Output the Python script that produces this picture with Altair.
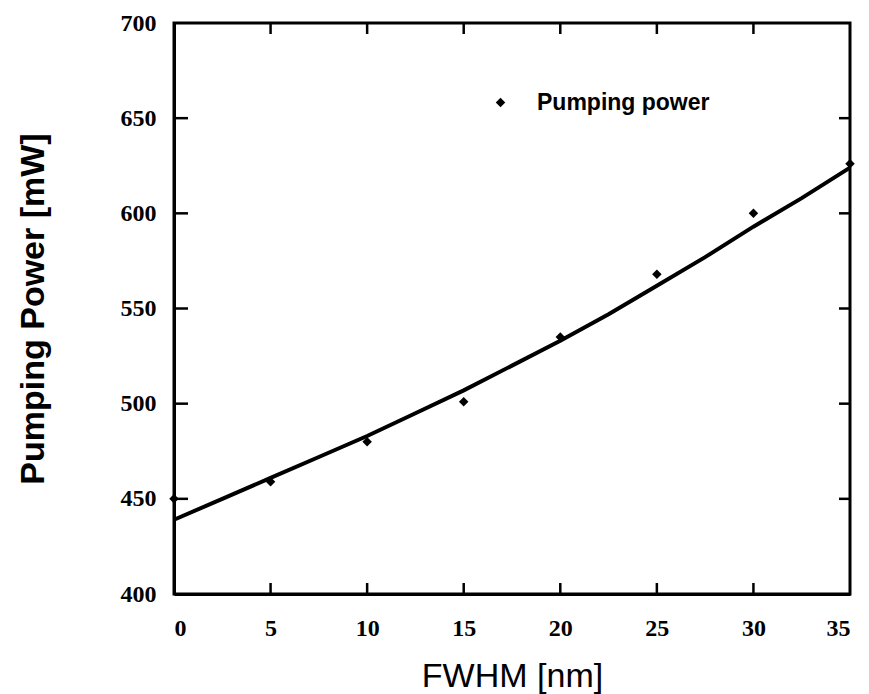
import altair as alt
import pandas as pd

# measured data points
fwhm = [0, 5, 10, 15, 20, 25, 30, 35]
power = [450, 459, 480, 501, 535, 568, 600, 626]

# fitted curve
fit_x = [0, 2.5, 5, 7.5, 10, 12.5, 15, 17.5, 20, 22.5, 25, 27.5, 30, 32.5, 35]
fit_y = [439, 450, 461, 472, 483, 495, 507, 520, 533, 547, 562, 577, 593, 608, 624]

x_ticks = [0, 5, 10, 15, 20, 25, 30, 35]
y_ticks = [400, 450, 500, 550, 600, 650, 700]

pts = pd.DataFrame({"x": fwhm, "y": power, "s": ["Pumping power"] * len(fwhm)})
fit = pd.DataFrame({"x": fit_x, "y": fit_y})
xt = pd.DataFrame({"x": x_ticks[1:-1]})
yt = pd.DataFrame({"y": y_ticks[1:-1]})

W, H = 676, 571
xs = alt.Scale(domain=[0, 35], nice=False, zero=False)
ys = alt.Scale(domain=[400, 700], nice=False, zero=False)

xaxis = alt.Axis(values=x_ticks, tickSize=0, labelPadding=22, labelFont="Liberation Serif",
                 labelFontWeight="bold", labelFontSize=24, labelColor="black",
                 domainColor="black", domainWidth=3, grid=False,
                 title="FWHM [nm]", titleFont="Liberation Sans", titleFontSize=34,
                 titleFontWeight="normal", titlePadding=19, titleColor="black")
yaxis = alt.Axis(values=y_ticks, tickSize=0, labelPadding=18, labelFont="Liberation Serif",
                 labelFontWeight="bold", labelFontSize=24, labelColor="black",
                 domainColor="black", domainWidth=3, grid=False,
                 title="Pumping Power [mW]", titleFont="Liberation Sans", titleFontSize=34,
                 titleFontWeight="bold", titlePadding=70, titleColor="black")

line = alt.Chart(fit).mark_line(color="black", strokeWidth=4).encode(
    x=alt.X("x:Q", scale=xs, axis=xaxis),
    y=alt.Y("y:Q", scale=ys, axis=yaxis),
)

points = alt.Chart(pts).mark_point(filled=True, color="black", size=90, opacity=1).encode(
    x=alt.X("x:Q", scale=xs),
    y=alt.Y("y:Q", scale=ys),
    shape=alt.Shape("s:N", scale=alt.Scale(range=["diamond"]),
                    legend=alt.Legend(title=None, orient="none", legendX=315, legendY=68,
                                      labelFont="Liberation Sans", labelFontWeight="bold",
                                      labelFontSize=23, labelColor="black", symbolSize=90,
                                      symbolFillColor="black", symbolStrokeColor="black",
                                      labelOffset=25, labelLimit=400)),
)

tick_style = dict(color="black", strokeWidth=2.5)
bot = alt.Chart(xt).mark_rule(**tick_style).encode(
    x=alt.X("x:Q", scale=xs), y=alt.value(H), y2=alt.value(H - 11))
top = alt.Chart(xt).mark_rule(**tick_style).encode(
    x=alt.X("x:Q", scale=xs), y=alt.value(0), y2=alt.value(11))
left = alt.Chart(yt).mark_rule(**tick_style).encode(
    y=alt.Y("y:Q", scale=ys), x=alt.value(0), x2=alt.value(14))
right = alt.Chart(yt).mark_rule(**tick_style).encode(
    y=alt.Y("y:Q", scale=ys), x=alt.value(W), x2=alt.value(W - 11))

chart = alt.layer(line, points, bot, top, left, right).properties(
    width=W, height=H,
    autosize=alt.AutoSizeParams(type="none"),
    padding={"left": 174, "top": 23, "right": 19, "bottom": 100},
    background="white",
).configure_view(stroke="black", strokeWidth=3)

chart.save("out.html", embed_options={"renderer": "svg", "actions": False})
